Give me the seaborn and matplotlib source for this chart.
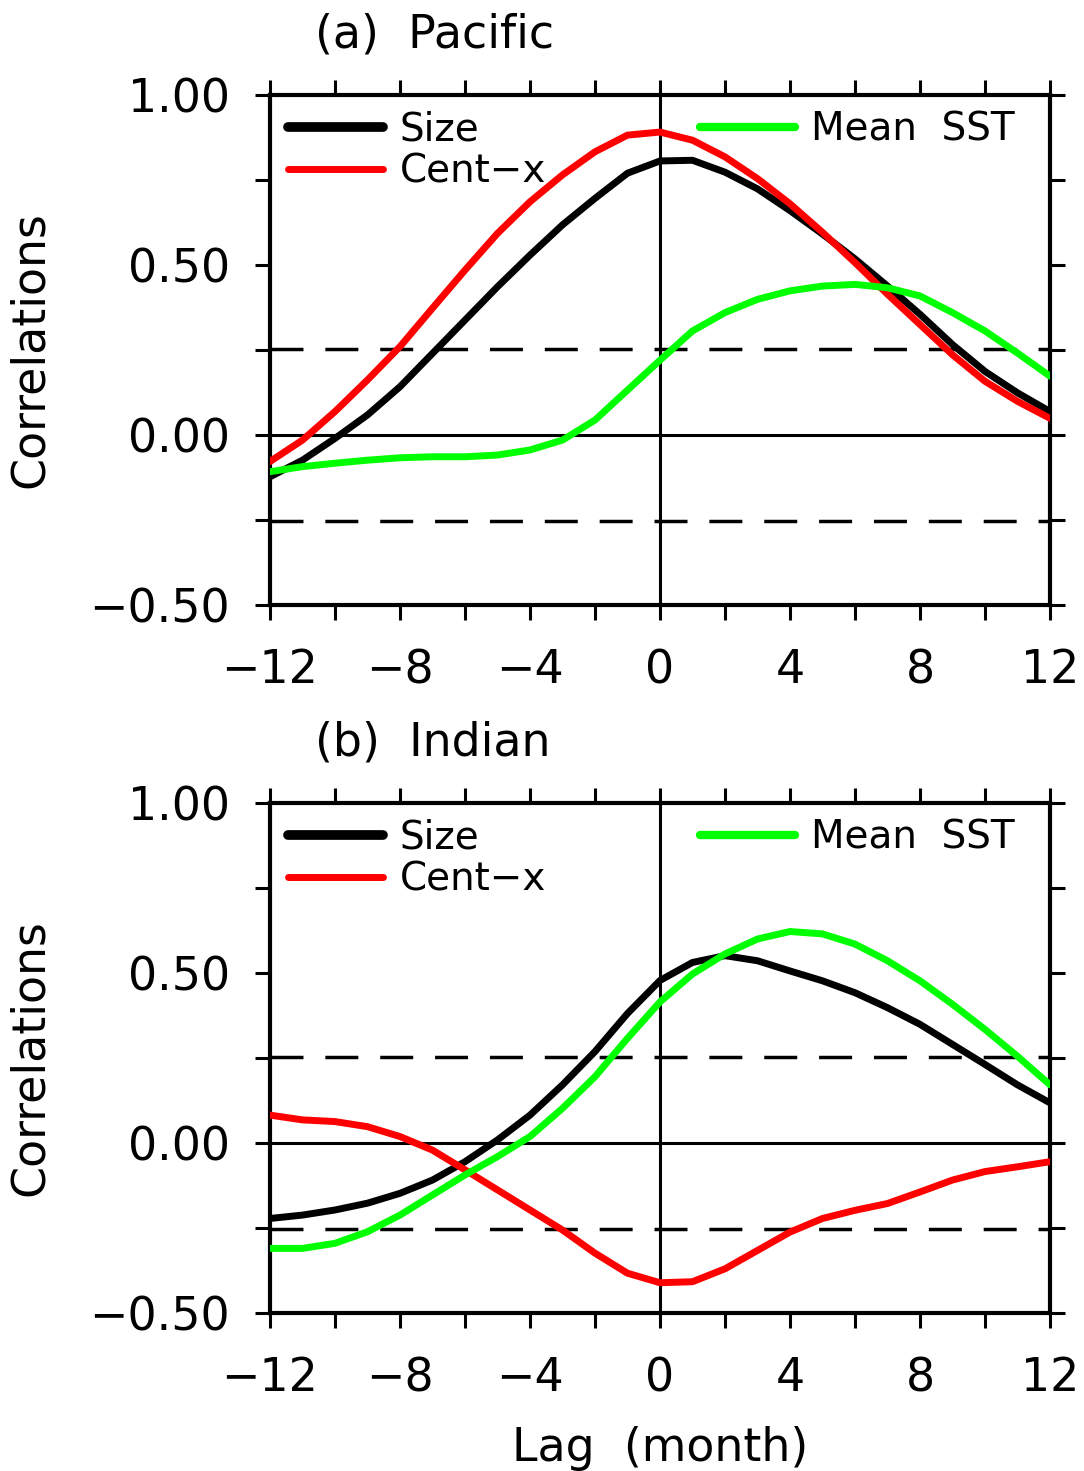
import numpy as np
import pandas as pd
import matplotlib
matplotlib.use("Agg")
import matplotlib.pyplot as plt
import seaborn as sns
from matplotlib.lines import Line2D
from matplotlib.ticker import MultipleLocator

# lag axis (months)
lags = list(range(-12, 13))

# (a) Pacific
pac_size = [-0.123, -0.074, -0.010, 0.059, 0.142, 0.240, 0.338, 0.436, 0.529, 0.618, 0.696, 0.770, 0.806,
            0.808, 0.773, 0.724, 0.660, 0.591, 0.518, 0.438, 0.355, 0.266, 0.187, 0.124, 0.069]
pac_centx = [-0.078, -0.015, 0.069, 0.162, 0.260, 0.373, 0.485, 0.593, 0.686, 0.765, 0.833, 0.882, 0.891,
             0.867, 0.818, 0.754, 0.680, 0.596, 0.507, 0.414, 0.325, 0.236, 0.158, 0.099, 0.049]
pac_sst = [-0.108, -0.093, -0.083, -0.074, -0.067, -0.064, -0.064, -0.059, -0.044, -0.015, 0.044, 0.132, 0.220,
           0.306, 0.360, 0.399, 0.424, 0.438, 0.443, 0.433, 0.409, 0.360, 0.306, 0.241, 0.173]

# (b) Indian
ind_size = [-0.222, -0.212, -0.197, -0.177, -0.148, -0.109, -0.055, 0.009, 0.082, 0.171, 0.269, 0.381, 0.478,
            0.531, 0.551, 0.536, 0.506, 0.477, 0.442, 0.398, 0.349, 0.290, 0.231, 0.171, 0.118]
ind_centx = [0.082, 0.068, 0.063, 0.048, 0.019, -0.021, -0.079, -0.138, -0.197, -0.256, -0.324, -0.383, -0.411,
             -0.408, -0.370, -0.316, -0.262, -0.222, -0.198, -0.178, -0.144, -0.109, -0.084, -0.070, -0.055]
ind_sst = [-0.310, -0.310, -0.295, -0.261, -0.212, -0.153, -0.094, -0.040, 0.019, 0.102, 0.195, 0.308, 0.415,
           0.497, 0.556, 0.600, 0.622, 0.615, 0.585, 0.536, 0.477, 0.408, 0.334, 0.255, 0.171]

SIG = 0.254  # significance level (dashed lines)

SERIES = ["Size", "Cent\u2212x", "Mean  SST"]
PALETTE = {"Size": "#000000", "Cent\u2212x": "#FF0000", "Mean  SST": "#00FF00"}

panels = [
    ("(a)  Pacific", pac_size, pac_centx, pac_sst),
    ("(b)  Indian", ind_size, ind_centx, ind_sst),
]

sns.set_style("ticks")
plt.rcParams["font.family"] = ["DejaVu Sans"]
plt.rcParams["axes.unicode_minus"] = True
plt.rcParams["text.color"] = "black"
plt.rcParams["axes.labelcolor"] = "black"
plt.rcParams["xtick.color"] = "black"
plt.rcParams["ytick.color"] = "black"

W, H = 1084, 1471
fig = plt.figure(figsize=(W / 100, H / 100), dpi=100)
fig.patch.set_facecolor("white")

ax_left, ax_w, ax_h = 270 / W, 780 / W, 510 / H
tops = [95, 803]

FS = 33
for i, (title, s_size, s_centx, s_sst) in enumerate(panels):
    bottom = 1 - (tops[i] + 510) / H
    ax = fig.add_axes([ax_left, bottom, ax_w, ax_h])

    df = pd.DataFrame({
        "lag": lags * 3,
        "corr": s_size + s_centx + s_sst,
        "series": [SERIES[0]] * 25 + [SERIES[1]] * 25 + [SERIES[2]] * 25,
    })

    # reference lines
    ax.axhline(0, color="black", lw=2.2, zorder=1)
    ax.axvline(0, color="black", lw=2.2, zorder=1)
    for s in (SIG, -SIG):
        ax.axhline(s, color="black", lw=2.5, dashes=(9.5, 6.3), zorder=1)

    sns.lineplot(data=df, x="lag", y="corr", hue="series", hue_order=SERIES,
                 palette=PALETTE, linewidth=5, legend=False, ax=ax, zorder=3)

    ax.set_xlim(-12, 12)
    ax.set_ylim(-0.5, 1.0)
    ax.xaxis.set_major_locator(MultipleLocator(4))
    ax.xaxis.set_minor_locator(MultipleLocator(2))
    ax.yaxis.set_major_locator(MultipleLocator(0.5))
    ax.yaxis.set_minor_locator(MultipleLocator(0.25))
    ax.xaxis.set_major_formatter(plt.FuncFormatter(lambda v, p: f"{int(v)}".replace("-", "\u2212")))
    ax.yaxis.set_major_formatter(plt.FuncFormatter(lambda v, p: f"{v:.2f}".replace("-", "\u2212")))

    for side in ["left", "right", "top", "bottom"]:
        ax.spines[side].set_visible(True)
        ax.spines[side].set_linewidth(3)
        ax.spines[side].set_color("black")
    ax.tick_params(which="both", direction="out", length=11, width=2.2, color="black",
                   top=True, right=True, labeltop=False, labelright=False)
    ax.tick_params(axis="x", which="major", labelsize=FS, pad=20, labelcolor="black")
    ax.tick_params(axis="y", which="major", labelsize=FS, pad=18, labelcolor="black")

    ax.set_ylabel("Correlations", fontsize=FS, labelpad=26, color="black")
    if i == 1:
        ax.set_xlabel("Lag  (month)", fontsize=FS, labelpad=18, color="black")
    else:
        ax.set_xlabel("")

    ax.text(0.058, 1.118, title, transform=ax.transAxes, fontsize=FS,
            ha="left", va="center", color="black")

    # legends
    h1 = [Line2D([0], [0], color=PALETTE[SERIES[0]], lw=7),
          Line2D([0], [0], color=PALETTE[SERIES[1]], lw=5)]
    leg1 = ax.legend(h1, SERIES[:2], loc="upper left", bbox_to_anchor=(0.023, 0.97),
                     frameon=False, fontsize=28, handlelength=2.45, handletextpad=0.42,
                     labelspacing=0.12, borderpad=0, borderaxespad=0, labelcolor="black")
    ax.add_artist(leg1)
    h2 = [Line2D([0], [0], color=PALETTE[SERIES[2]], lw=6)]
    ax.legend(h2, SERIES[2:], loc="upper left", bbox_to_anchor=(0.551, 0.97),
              frameon=False, fontsize=28, handlelength=2.45, handletextpad=0.42,
              borderpad=0, borderaxespad=0, labelcolor="black")

fig.savefig("out.png", dpi=100, facecolor="white")
